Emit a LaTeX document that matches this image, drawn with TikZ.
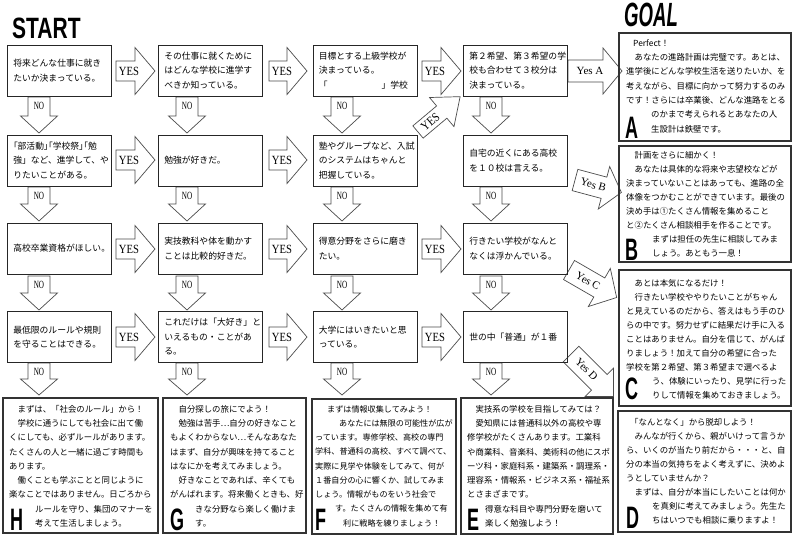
\documentclass[tikz,border=0pt]{standalone}
\usepackage{fontspec}
\usepackage{graphicx}
\setmainfont{Noto Sans CJK JP}
\newfontfamily\lsans{Liberation Sans}
\newfontfamily\lserif{Liberation Serif}
\newcommand\fq{\fontsize{8.8}{14.5}\selectfont}
\newcommand\fg{\fontsize{8.4}{14}\selectfont}
\newcommand\fgb{\fontsize{8.4}{14.25}\selectfont}
\newcommand\fgf{\fontsize{8.1}{14.25}\selectfont}
\newcommand\palt{\addfontfeature{RawFeature=+palt}}
\newcommand\yeslab{{\lserif\fontsize{12.5}{12.5}\selectfont\scalebox{0.85}[1]{YES}}}
\newcommand\nolab{{\lserif\fontsize{11}{11}\selectfont\scalebox{0.65}[1]{NO}}}
\newcommand\yesx[1]{{\lserif\fontsize{11}{11}\selectfont Yes #1}}
\newcommand\goalletter[1]{{\lsans\bfseries\fontsize{20}{20}\selectfont\scalebox{0.9}[1.55]{#1}}}
\def\abh{10}\def\ahh{23.5}
\newcommand\farr[7]{%
 \begin{scope}[shift={(#2,#3)},rotate=#4]
  \path[arrline] (0,-\abh) -- ({#5-#6},-\abh) -- ({#5-#6},-\ahh) -- (#5,0) -- ({#5-#6},\ahh) -- ({#5-#6},\abh) -- (0,\abh) -- cycle;
  \coordinate (#1) at (#7,0);
 \end{scope}}
\tikzset{
 qbox/.style={draw=black!85, line width=0.9pt, minimum width=104pt, minimum height=51pt, inner sep=0pt},
 gbox/.style={draw=black!80, line width=1.1pt, inner sep=0pt},
 qtxt/.style={anchor=west, align=left, inner sep=0pt, font=\fq},
 gtxt/.style={anchor=north west, align=left, inner sep=0pt},
 arrline/.style={draw=black!70, line width=0.7pt, fill=white, line join=miter},
 albl/.style={inner sep=0pt},
 letter/.style={anchor=base west, inner sep=0pt},
}
\begin{document}
\begin{tikzpicture}[x=1pt,y=-1pt]
\useasboundingbox[fill=white] (0,0) rectangle (800,543);

% titles
\node[anchor=base west, inner sep=0pt] (start) at (12,38) {\lsans\bfseries\fontsize{20}{20}\selectfont\scalebox{1.05}[1.47]{START}};
\node[anchor=base west, inner sep=0pt] (goal) at (624,27) {\lsans\bfseries\itshape\fontsize{20}{20}\selectfont\scalebox{0.93}[1.68]{GOAL}};

% ---------- YES arrows (horizontal)
\def\abh{10}\def\ahh{23.5}
\farr{a11}{116}{71}{0}{39}{20}{13}
\farr{a12}{269}{71}{0}{38}{20}{13}
\farr{a13}{422}{71}{0}{39}{20}{13}
\farr{a21}{116}{160}{0}{39}{20}{13}
\farr{a22}{269}{160}{0}{38}{20}{13}
\farr{a31}{116}{249}{0}{39}{20}{13}
\farr{a32}{269}{249}{0}{38}{20}{13}
\farr{a33}{422}{249}{0}{39}{20}{13}
\farr{a41}{116}{337}{0}{39}{20}{13}
\farr{a42}{269}{337}{0}{38}{20}{13}
\farr{a43}{422}{337}{0}{39}{20}{13}
\foreach \n in {a11,a12,a13,a21,a22,a31,a32,a33,a41,a42,a43}{\node[albl] (l\n) at (\n) {\yeslab};}
\def\abh{8}\def\ahh{19}
\farr{adg}{418}{132}{40}{55}{24}{16}
\node[albl, rotate=40] (ladg) at (adg) {\yeslab};

% Yes A..D
\def\abh{11}\def\ahh{23}
\farr{aA}{568}{71}{0}{54}{19}{22}
\def\abh{11}\def\ahh{22}
\farr{aB}{575}{180}{-15}{48}{18}{19}
\def\abh{11}\def\ahh{22}
\farr{aC}{569}{270}{-30}{55}{20}{22}
\def\abh{11}\def\ahh{20}
\farr{aD}{571}{354}{-45}{60}{20}{22}
\node[albl] (laA) at (aA) {\yesx{A}};
\node[albl, rotate=-15] (laB) at (aB) {\yesx{B}};
\node[albl, rotate=-30] (laC) at (aC) {\yesx{C}};
\node[albl, rotate=-45] (laD) at (aD) {\yesx{D}};

% ---------- NO arrows (down)
\def\abh{11}\def\ahh{18.5}
\farr{n11}{39}{97}{-90}{36}{17}{9}
\farr{n12}{187}{97}{-90}{36}{17}{9}
\farr{n13}{342}{97}{-90}{36}{17}{9}
\farr{n14}{491}{97}{-90}{36}{17}{9}
\farr{n21}{39}{187}{-90}{34}{17}{9}
\farr{n22}{187}{187}{-90}{34}{17}{9}
\farr{n23}{342}{187}{-90}{34}{17}{9}
\farr{n24}{491}{187}{-90}{34}{17}{9}
\farr{n31}{39}{276}{-90}{34}{17}{9}
\farr{n32}{187}{276}{-90}{34}{17}{9}
\farr{n33}{342}{276}{-90}{34}{17}{9}
\farr{n34}{491}{276}{-90}{34}{17}{9}
\farr{n41}{39}{363}{-90}{32}{16}{9}
\farr{n42}{187}{363}{-90}{32}{16}{9}
\farr{n43}{342}{363}{-90}{32}{16}{9}
\farr{n44}{491}{363}{-90}{32}{16}{9}
\foreach \n in {n11,n12,n13,n14,n21,n22,n23,n24,n31,n32,n33,n34,n41,n42,n43,n44}{\node[albl] (l\n) at (\n) {\nolab};}

% ---------- question boxes
\node[qbox] (q11) at (59.5,70.5) {};
\node[qbox] (q12) at (210.5,70.5) {};
\node[qbox] (q13) at (365,70.5) {};
\node[qbox] (q14) at (515.5,70.5) {};
\node[qbox] (q21) at (59.5,160.5) {};
\node[qbox] (q22) at (210.5,160.5) {};
\node[qbox] (q23) at (365,160.5) {};
\node[qbox] (q24) at (515.5,160.5) {};
\node[qbox] (q31) at (59.5,248.5) {};
\node[qbox] (q32) at (210.5,248.5) {};
\node[qbox] (q33) at (365,248.5) {};
\node[qbox] (q34) at (515.5,248.5) {};
\node[qbox] (q41) at (59.5,337) {};
\node[qbox] (q42) at (210.5,337) {};
\node[qbox] (q43) at (365,337) {};
\node[qbox] (q44) at (515.5,337) {};

\node[qtxt] (t11) at ([xshift=6pt]q11.west) {将来どんな仕事に就き\\たいか決まっている。};
\node[qtxt] (t12) at ([xshift=6pt]q12.west) {その仕事に就くために\\はどんな学校に進学す\\べきか知っている。};
\node[qtxt] (t13) at ([xshift=6pt]q13.west) {目標とする上級学校が\\決まっている。\\「\hspace*{54pt}」学校};
\node[qtxt] (t14) at ([xshift=6pt]q14.west) {第２希望、第３希望の学\\校も合わせて３校分は\\決まっている。};
\node[qtxt] (t21) at ([xshift=6pt]q21.west) {{\palt「部活動」「学校祭」「勉}\\強」など、進学して、や\\りたいことがある。};
\node[qtxt] (t22) at ([xshift=6pt]q22.west) {勉強が好きだ。};
\node[qtxt] (t23) at ([xshift=6pt]q23.west) {塾やグループなど、入試\\のシステムはちゃんと\\把握している。};
\node[qtxt] (t24) at ([xshift=6pt]q24.west) {自宅の近くにある高校\\を１０校は言える。};
\node[qtxt] (t31) at ([xshift=6pt]q31.west) {高校卒業資格がほしい。};
\node[qtxt] (t32) at ([xshift=6pt]q32.west) {実技教科や体を動かす\\ことは比較的好きだ。};
\node[qtxt] (t33) at ([xshift=6pt]q33.west) {得意分野をさらに磨き\\たい。};
\node[qtxt] (t34) at ([xshift=6pt]q34.west) {行きたい学校がなんと\\なくは浮かんでいる。};
\node[qtxt] (t41) at ([xshift=6pt]q41.west) {最低限のルールや規則\\を守ることはできる。};
\node[qtxt] (t42) at ([xshift=6pt]q42.west) {これだけは「大好き」と\\いえるもの・ことがあ\\る。};
\node[qtxt] (t43) at ([xshift=6pt]q43.west) {大学にはいきたいと思\\っている。};
\node[qtxt] (t44) at ([xshift=6pt]q44.west) {世の中「普通」が１番};

% ---------- goal boxes
\node[gbox, minimum width=172pt, minimum height=108pt] (bA) at (705,87) {};
\node[gbox, minimum width=172pt, minimum height=116pt] (bB) at (705,204) {};
\node[gbox, minimum width=172pt, minimum height=136pt] (bC) at (705,338) {};
\node[gbox, minimum width=173pt, minimum height=121pt] (bD) at (704.5,471.5) {};
\node[gbox, minimum width=155pt, minimum height=135pt] (bH) at (80.5,465.5) {};
\node[gbox, minimum width=143pt, minimum height=135pt] (bG) at (234.5,465.5) {};
\node[gbox, minimum width=144pt, minimum height=135pt] (bF) at (384,466.5) {};
\node[gbox, minimum width=152pt, minimum height=136pt] (bE) at (537,466) {};

\node[gtxt, font=\fontsize{8.4}{14.3}\selectfont] (tA) at (626,39.3) {\hspace*{7pt}Perfect！\\
　あなたの進路計画は完璧です。あとは、\\
進学後にどんな学校生活を送りたいか、を\\
考えながら、目標に向かって努力するのみ\\
です！さらには卒業後、どんな進路をとる\\
\hspace*{25pt}のかまで考えられるとあなたの人\\
\hspace*{25pt}生設計は鉄壁です。};
\node[gtxt, font=\fg] (tB) at (626,151) {　計画をさらに細かく！\\
　あなたは具体的な将来や志望校などが\\
決まっていないことはあっても、進路の全\\
体像をつかむことができています。最後の\\
決め手は①たくさん情報を集めること\\
と②たくさん相談相手を作ることです。\\
\hspace*{26pt}まずは担任の先生に相談してみま\\
\hspace*{26pt}しょう。あともう一息！};
\node[gtxt, font=\fg] (tC) at (626,279) {　あとは本気になるだけ！\\
　行きたい学校ややりたいことがちゃん\\
と見えているのだから、答えはもう手のひ\\
らの中です。努力せずに結果だけ手に入る\\
ことはありません。自分を信じて、がんば\\
りましょう！加えて自分の希望に合った\\
学校を第２希望、第３希望まで選べるよ\\
\hspace*{26pt}う、体験にいったり、見学に行った\\
\hspace*{26pt}りして情報を集めておきましょう。};
\node[gtxt, font=\fg] (tD) at (626,418) {\hspace*{4pt}「なんとなく」から脱却しよう！\\
　みんなが行くから、親がいけって言うか\\
ら、いくのが当たり前だから・・・と、自\\
分の本当の気持ちをよく考えずに、決めよ\\
うとしていませんか？\\
　まずは、自分が本当にしたいことは何か\\
\hspace*{26pt}を真剣に考えてみましょう。先生た\\
\hspace*{26pt}ちはいつでも相談に乗りますよ！};
\node[gtxt, font=\fgb] (tH) at (9,405) {　まずは、「社会のルール」から！\\
　学校に通うにしても社会に出て働\\
くにしても、必ずルールがあります。\\
たくさんの人と一緒に過ごす時間も\\
あります。\\
　働くことも学ぶことと同じように\\
楽なことではありません。日ごろから\\
\hspace*{26pt}ルールを守り、集団のマナーを\\
\hspace*{26pt}考えて生活しましょう。};
\node[gtxt, font=\fgb] (tG) at (170,405) {　自分探しの旅にでよう！\\
　勉強は苦手…自分の好きなこと\\
もよくわからない…そんなあなた\\
はまず、自分が興味を持てること\\
はなにかを考えてみましょう。\\
　好きなことであれば、辛くても\\
がんばれます。将来働くときも、好\\
\hspace*{25pt}きな分野なら楽しく働けま\\
\hspace*{25pt}す。};
\node[gtxt, font=\fgf] (tF) at (315,405) {\hspace*{12pt}まずは情報収集してみよう！\\
\hspace*{24pt}あなたには無限の可能性が広が\\
っています。専修学校、高校の専門\\
学科、普通科の高校、すべて調べて、\\
実際に見学や体験をしてみて、何が\\
１番自分の心に響くか、試してみま\\
しょう。情報がものをいう社会で\\
\hspace*{20pt}す。たくさんの情報を集めて有\\
\hspace*{28pt}利に戦略を練りましょう！};
\node[gtxt, font=\fgb] (tE) at (467,405) {　実技系の学校を目指してみては？\\
　愛知県には普通科以外の高校や専\\
修学校がたくさんあります。工業科\\
や商業科、音楽科、美術科の他にスポ\\
ーツ科・家庭科系・建築系・調理系・\\
理容系・情報系・ビジネス系・福祉系\\
とさまざまです。\\
\hspace*{18pt}得意な科目や専門分野を磨いて\\
\hspace*{18pt}楽しく勉強しよう！};

% big letters
\node[letter] (LA) at (625,138) {\goalletter{A}};
\node[letter] (LB) at (625,260) {\goalletter{B}};
\node[letter] (LC) at (625,399) {\goalletter{C}};
\node[letter] (LD) at (626,528) {\goalletter{D}};
\node[letter] (LH) at (10,530) {\goalletter{H}};
\node[letter] (LG) at (170,530) {\goalletter{G}};
\node[letter] (LF) at (315,530) {\goalletter{F}};
\node[letter] (LE) at (467,530) {\goalletter{E}};
\end{tikzpicture}
\end{document}
